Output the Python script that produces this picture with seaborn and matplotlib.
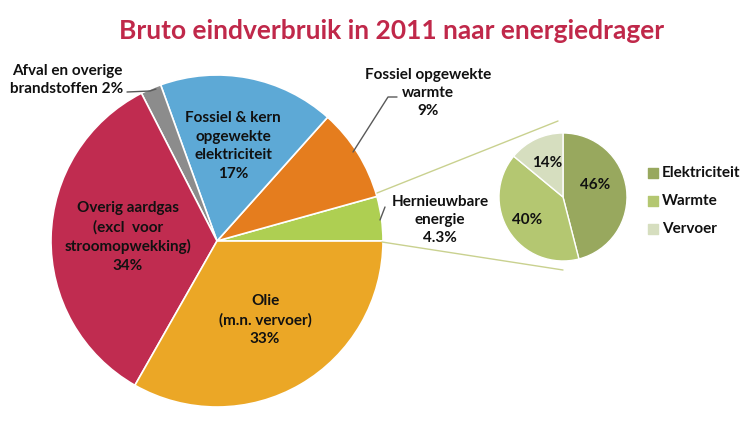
import matplotlib
matplotlib.use("Agg")
import matplotlib.pyplot as plt
import seaborn as sns

# main pie: gross final consumption 2011 by energy carrier (%)
main_labels = ["Hernieuwbare\nenergie\n4.3%", "Fossiel opgewekte\nwarmte\n9%",
               "Fossiel & kern\nopgewekte\nelektriciteit\n17%", "Afval en overige\nbrandstoffen 2%",
               "Overig aardgas\n(excl  voor\nstroomopwekking)\n34%", "Olie\n(m.n. vervoer)\n33%"]
main_values = [4.3, 9, 17, 2, 34, 33]
main_colors = ["#AECF52", "#E57D1E", "#5DA9D6", "#8C8C8C", "#C02C50", "#EBA726"]

# sub pie: breakdown of renewable energy (%)
sub_labels = ["Elektriciteit", "Warmte", "Vervoer"]
sub_values = [46, 40, 14]
sub_colors = ["#98A85E", "#B4C771", "#D6DEBF"]

sns.set_theme(style="white")
plt.rcParams["font.family"] = ["Lato", "DejaVu Sans"]

W, H = 756, 428
fig = plt.figure(figsize=(W / 100, H / 100), dpi=100)
ax = fig.add_axes([0, 0, 1, 1])


def py(y):
    # convert top-down pixel y to axes y
    return H - y


main_c = (217, py(241))
main_r = 166
wedges, _ = ax.pie(main_values, colors=main_colors, startangle=0, counterclock=True,
                   center=main_c, radius=main_r,
                   wedgeprops=dict(edgecolor="white", linewidth=1.2))

sub_c = (563, py(197))
sub_r = 64
sub_wedges, _ = ax.pie(sub_values, colors=sub_colors, startangle=90, counterclock=False,
                       center=sub_c, radius=sub_r,
                       wedgeprops=dict(edgecolor="white", linewidth=1.0))

ax.set_xlim(0, W)
ax.set_ylim(0, H)
ax.set_aspect("equal")
ax.axis("off")

txt = dict(ha="center", va="center", fontsize=11, fontweight="bold", color="#111111",
           linespacing=1.4)

# labels inside the main pie
ax.text(233, py(146), main_labels[2], **txt)
ax.text(128, py(237), main_labels[4], **txt)
ax.text(265, py(320), main_labels[5], **txt)
# outside labels
ax.text(67, py(80), main_labels[3], **txt)
ax.text(428, py(93), main_labels[1], **txt)
ax.text(440, py(220), main_labels[0], **txt)

# leader lines
lk = dict(color="#595959", linewidth=1.0)
ax.plot([127, 150, 156], [py(92), py(91), py(89)], **lk)
ax.plot([397, 388, 353], [py(97), py(97), py(152)], **lk)
ax.plot([385, 380], [py(207), py(220)], **lk)

# connector lines between the pies
ck = dict(color="#C9D18F", linewidth=1.0)
ax.plot([377, 558], [py(193), py(121)], **ck)
ax.plot([382, 563], [py(242), py(270)], **ck)

# sub pie percentages
for (x, y), v in zip([(595, 185), (527, 220), (547, 163)], sub_values):
    ax.text(x, py(y), f"{v}%", **txt)

# legend
for i, (lab, col) in enumerate(zip(sub_labels, sub_colors)):
    y = 173 + i * 28
    ax.scatter([653], [py(y)], marker="s", s=45, color=col)
    ax.text(662, py(y), lab, ha="left", va="center", fontsize=11, fontweight="bold",
            color="#111111")

fig.text(392 / W, 1 - 31 / H, "Bruto eindverbruik in 2011 naar energiedrager", ha="center",
         va="center", fontsize=19, fontweight="bold", color="#C0284A")

fig.savefig("out.png", dpi=100)
